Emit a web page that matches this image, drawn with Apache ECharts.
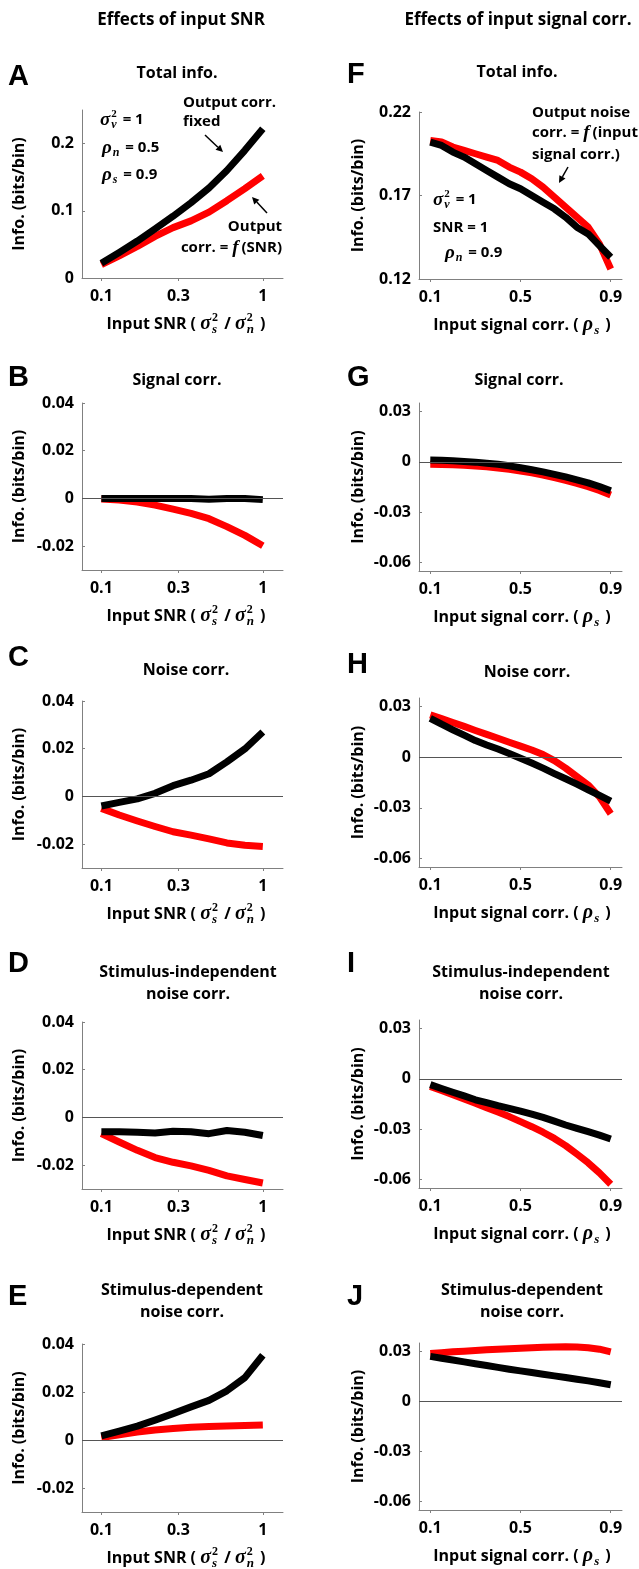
<!DOCTYPE html>
<html>
<head>
<meta charset="utf-8">
<script src="https://cdn.jsdelivr.net/npm/echarts@6/dist/echarts.min.js"></script>
<style>
html,body{margin:0;padding:0;background:#fff;}
#main{width:639px;height:1569px;}
</style>
</head>
<body>
<div id="main"></div>
<script>
// x values: input SNR (left column, log axis) and input signal corr. (right column)
const snr = [0.1, 0.129, 0.167, 0.215, 0.278, 0.359, 0.464, 0.599, 0.774, 1];
const rhoS = [0.1, 0.15, 0.2, 0.25, 0.3, 0.35, 0.4, 0.45, 0.5, 0.55, 0.6, 0.65, 0.7, 0.75, 0.8, 0.85, 0.9];

// left column: black = output corr. fixed, red = output corr. = f(SNR)
const totalSnrBlack = [0.022, 0.038, 0.055, 0.073, 0.092, 0.112, 0.134, 0.160, 0.190, 0.222];
const totalSnrRed   = [0.020, 0.033, 0.047, 0.062, 0.075, 0.085, 0.098, 0.115, 0.133, 0.152];
const sigSnrBlack   = [0, 0, 0, 0, 0, 0, -0.0003, 0, 0, -0.0005];
const sigSnrRed     = [-0.0002, -0.0007, -0.0015, -0.0028, -0.0045, -0.0063, -0.0085, -0.0118, -0.0155, -0.0198];
const noiseSnrBlack = [-0.004, -0.0025, -0.001, 0.0013, 0.0045, 0.0068, 0.0095, 0.0145, 0.0199, 0.027];
const noiseSnrRed   = [-0.005, -0.0078, -0.0103, -0.0126, -0.0148, -0.0162, -0.0178, -0.0195, -0.0205, -0.021];
const indepSnrBlack = [-0.006, -0.006, -0.0062, -0.0065, -0.0058, -0.006, -0.0068, -0.0055, -0.0062, -0.0076];
const indepSnrRed   = [-0.0068, -0.0103, -0.0138, -0.0168, -0.0188, -0.0203, -0.0222, -0.0245, -0.026, -0.0275];
const depSnrBlack   = [0.0017, 0.0037, 0.0058, 0.0083, 0.011, 0.0138, 0.0165, 0.0205, 0.026, 0.0353];
const depSnrRed     = [0.001, 0.0022, 0.0033, 0.0042, 0.0048, 0.0053, 0.0056, 0.0058, 0.006, 0.0062];

// right column
const totalRhoBlack = [0.202, 0.200, 0.196, 0.193, 0.189, 0.185, 0.181, 0.177, 0.174, 0.170, 0.166, 0.162, 0.157, 0.151, 0.147, 0.140, 0.133];
const totalRhoRed   = [0.203, 0.202, 0.199, 0.197, 0.195, 0.193, 0.191, 0.187, 0.184, 0.180, 0.175, 0.169, 0.163, 0.157, 0.151, 0.141, 0.126];
const sigRhoBlack   = [0.001, 0.0009, 0.0006, 0.0002, -0.0002, -0.0008, -0.0015, -0.0024, -0.0035, -0.0047, -0.006, -0.0075, -0.009, -0.0107, -0.0125, -0.0147, -0.0172];
const sigRhoRed     = [-0.0015, -0.0016, -0.0018, -0.0021, -0.0025, -0.003, -0.0037, -0.0045, -0.0055, -0.0066, -0.0079, -0.0094, -0.011, -0.0128, -0.0148, -0.0171, -0.0198];
const noiseRhoBlack = [0.023, 0.0195, 0.0162, 0.013, 0.0098, 0.0072, 0.0048, 0.0022, -0.0006, -0.0035, -0.0065, -0.0097, -0.0128, -0.016, -0.0193, -0.0226, -0.026];
const noiseRhoRed   = [0.025, 0.0228, 0.0205, 0.0182, 0.0158, 0.0135, 0.0112, 0.0088, 0.0065, 0.0042, 0.0015, -0.002, -0.0065, -0.0115, -0.0165, -0.0235, -0.0335];
const indepRhoBlack = [-0.0035, -0.0058, -0.008, -0.0102, -0.0125, -0.0142, -0.016, -0.0176, -0.0192, -0.021, -0.023, -0.0252, -0.0275, -0.0295, -0.0315, -0.0335, -0.0358];
const indepRhoRed   = [-0.0045, -0.007, -0.0095, -0.012, -0.0145, -0.0172, -0.0198, -0.0225, -0.0255, -0.0285, -0.0318, -0.0355, -0.0398, -0.0448, -0.05, -0.056, -0.0628];
const depRhoBlack   = [0.027, 0.0259, 0.0248, 0.0237, 0.0226, 0.0215, 0.0204, 0.0193, 0.0183, 0.0173, 0.0163, 0.0153, 0.0143, 0.0133, 0.0123, 0.0112, 0.010];
const depRhoRed     = [0.0287, 0.0292, 0.0297, 0.0301, 0.0305, 0.0309, 0.0313, 0.0316, 0.0319, 0.0322, 0.0324, 0.0326, 0.0327, 0.0326, 0.0322, 0.0313, 0.0297];

// tick labels
const snrTicks = [0.1, 0.3, 1];
const rhoTicks = [0.1, 0.5, 0.9];
const totalSnrYTicks = [0, 0.1, 0.2];
const totalRhoYTicks = [0.12, 0.17, 0.22];
const leftYTicks = [-0.02, 0, 0.02, 0.04];
const rightYTicks = [-0.06, -0.03, 0, 0.03];

const FONT = "'Open Sans', sans-serif";
const MATH = "'Liberation Serif', serif";

const panels = [
  {letter:'A', title:['Total info.'], col:0, top:110, h:168, y:[0, 0.25], ticks:totalSnrYTicks, red:totalSnrRed, black:totalSnrBlack, zero:false, ly:77, tx:177, ty:73},
  {letter:'B', title:['Signal corr.'], col:0, top:403, h:167, y:[-0.03, 0.04], ticks:leftYTicks, red:sigSnrRed, black:sigSnrBlack, zero:true, ly:378, tx:177, ty:380},
  {letter:'C', title:['Noise corr.'], col:0, top:701, h:167, y:[-0.03, 0.04], ticks:leftYTicks, red:noiseSnrRed, black:noiseSnrBlack, zero:true, ly:658, tx:186, ty:670},
  {letter:'D', title:['Stimulus-independent', 'noise corr.'], col:0, top:1022, h:167, y:[-0.03, 0.04], ticks:leftYTicks, red:indepSnrRed, black:indepSnrBlack, zero:true, ly:964, tx:188, ty:972},
  {letter:'E', title:['Stimulus-dependent', 'noise corr.'], col:0, top:1344, h:168, y:[-0.03, 0.04], ticks:leftYTicks, red:depSnrRed, black:depSnrBlack, zero:true, ly:1297, tx:182, ty:1290},
  {letter:'F', title:['Total info.'], col:1, top:112, h:167, y:[0.12, 0.22], ticks:totalRhoYTicks, red:totalRhoRed, black:totalRhoBlack, zero:false, ly:75, tx:517, ty:72},
  {letter:'G', title:['Signal corr.'], col:1, top:403, h:168, y:[-0.065, 0.035], ticks:rightYTicks, red:sigRhoRed, black:sigRhoBlack, zero:true, ly:378, tx:519, ty:380},
  {letter:'H', title:['Noise corr.'], col:1, top:698, h:169, y:[-0.065, 0.035], ticks:rightYTicks, red:noiseRhoRed, black:noiseRhoBlack, zero:true, ly:665, tx:527, ty:672},
  {letter:'I', title:['Stimulus-independent', 'noise corr.'], col:1, top:1020, h:168, y:[-0.065, 0.035], ticks:rightYTicks, red:indepRhoRed, black:indepRhoBlack, zero:true, ly:964, tx:521, ty:972},
  {letter:'J', title:['Stimulus-dependent', 'noise corr.'], col:1, top:1343, h:167, y:[-0.065, 0.035], ticks:rightYTicks, red:depRhoRed, black:depRhoBlack, zero:true, ly:1297, tx:522, ty:1290}
];

// text measuring for the little math labels
const mctx = document.createElement('canvas').getContext('2d');
function textW(str, f) {
  mctx.font = (f.fontStyle || 'normal') + ' ' + (f.fontWeight || 'normal') + ' ' + f.fontSize + 'px ' + f.fontFamily;
  return mctx.measureText(str).width;
}
function txt(x, y, s, f, extra) {
  return {type:'text', x:x, y:y, silent:true, style:Object.assign({text:s, fill:'#000', verticalAlign:'middle'}, f, extra || {})};
}
// parts: plain strings, or {m:'σ', sup:'2', sub:'s'}
function mathText(x, y, parts, align, size) {
  size = size || 15;
  const norm = {fontSize:size, fontFamily:FONT, fontWeight:'bold'};
  const ital = {fontSize:size + 4, fontFamily:MATH, fontWeight:'bold', fontStyle:'italic'};
  const supF = {fontSize:Math.round(size * 0.75), fontFamily:MATH, fontWeight:'bold'};
  const subF = {fontSize:Math.round(size * 0.8), fontFamily:MATH, fontWeight:'bold', fontStyle:'italic'};
  let cx = 0;
  const kids = [];
  parts.forEach(p => {
    if (typeof p === 'string') {
      kids.push(txt(cx, 0, p, norm));
      cx += textW(p, norm);
    } else {
      kids.push(txt(cx, 0, p.m, ital));
      cx += textW(p.m, ital) + 1;
      let w = 0;
      if (p.sup) { kids.push(txt(cx, -size * 0.4, p.sup, supF)); w = textW(p.sup, supF); }
      if (p.sub) { kids.push(txt(cx, size * 0.35, p.sub, subF)); w = Math.max(w, textW(p.sub, subF)); }
      cx += w + 2;
    }
  });
  const off = align === 'center' ? -cx / 2 : (align === 'right' ? -cx : 0);
  return {type:'group', x:x + off, y:y, children:kids};
}
function arrow(x1, y1, x2, y2) {
  const a = Math.atan2(y2 - y1, x2 - x1), L = 7, W = 3.5;
  const bx = x2 - L * Math.cos(a), by = y2 - L * Math.sin(a);
  const px = -Math.sin(a) * W, py = Math.cos(a) * W;
  return [
    {type:'line', silent:true, shape:{x1:x1, y1:y1, x2:bx, y2:by}, style:{stroke:'#000', lineWidth:1.5}},
    {type:'polygon', silent:true, shape:{points:[[x2, y2], [bx + px, by + py], [bx - px, by - py]]}, style:{fill:'#000'}}
  ];
}

const labelFont = {fontSize:16, fontWeight:'bold', fontFamily:FONT, color:'#000'};
const grids = [], xAxes = [], yAxes = [], series = [];
const graphics = [];

graphics.push(txt(181, 20, 'Effects of input SNR', {fontSize:17, fontWeight:'bold', fontFamily:FONT}, {align:'center'}));
graphics.push(txt(518, 20, 'Effects of input signal corr.', {fontSize:17, fontWeight:'bold', fontFamily:FONT}, {align:'center'}));

panels.forEach((p, i) => {
  const left = p.col ? 419 : 82, width = p.col ? 203 : 201;
  const xs = p.col ? rhoS : snr.map(v => Math.log10(v));
  grids.push({left:left, top:p.top, width:width, height:p.h});
  const xTickVals = p.col ? rhoTicks : snrTicks.map(v => Math.log10(v));
  xAxes.push({
    type:'value', gridIndex:i,
    min:p.col ? 0.05 : -1.12, max:p.col ? 0.95 : 0.125,
    splitLine:{show:false},
    axisLine:{onZero:false, lineStyle:{color:'#808080', width:1}},
    axisTick:{show:true, length:3, customValues:xTickVals, lineStyle:{color:'#808080'}},
    axisLabel:Object.assign({customValues:xTickVals, margin:10,
      formatter:v => p.col ? String(+(+v).toFixed(2)) : String(+Math.pow(10, v).toFixed(1))}, labelFont)
  });
  yAxes.push({
    type:'value', gridIndex:i, min:p.y[0], max:p.y[1],
    splitLine:{show:false},
    axisLine:{show:true, onZero:false, lineStyle:{color:'#808080', width:1}},
    axisTick:{show:true, inside:true, length:3, customValues:p.ticks, lineStyle:{color:'#808080'}},
    axisLabel:Object.assign({customValues:p.ticks, margin:8,
      formatter:v => String(+(+v).toFixed(4))}, labelFont)
  });
  series.push({
    type:'line', xAxisIndex:i, yAxisIndex:i, z:2, silent:true, animation:false,
    symbol:'none', data:xs.map((x, k) => [x, p.red[k]]),
    lineStyle:{color:'#ff0000', width:7, cap:'butt', join:'round'},
    markLine:p.zero ? {silent:true, symbol:'none', animation:false, label:{show:false},
      lineStyle:{color:'#555', width:1, type:'solid'}, data:[{yAxis:0}]} : undefined
  });
  series.push({
    type:'line', xAxisIndex:i, yAxisIndex:i, z:3, silent:true, animation:false,
    symbol:'none', data:xs.map((x, k) => [x, p.black[k]]),
    lineStyle:{color:'#000000', width:7, cap:'butt', join:'round'}
  });

  // letter, title, axis names
  graphics.push(txt(p.col ? 347 : 8, p.ly, p.letter, {fontSize:29, fontWeight:'bold', fontFamily:"'Liberation Sans', Arial, sans-serif"}));
  p.title.forEach((t, k) => graphics.push(txt(p.tx, p.ty + k * 22, t, {fontSize:16, fontWeight:'bold', fontFamily:FONT}, {align:'center'})));
  graphics.push({type:'text', x:p.col ? 358 : 19, y:p.top + p.h / 2, rotation:Math.PI / 2, silent:true,
    style:{text:'Info. (bits/bin)', fill:'#000', fontSize:16, fontWeight:'bold', fontFamily:FONT, align:'center', verticalAlign:'middle'}});
  const nameY = p.top + p.h + 46;
  if (p.col) {
    graphics.push(mathText(522, nameY, ['Input signal corr. ( ', {m:'ρ', sub:'s'}, ' )'], 'center', 16));
  } else {
    graphics.push(mathText(186, nameY, ['Input SNR ( ', {m:'σ', sup:'2', sub:'s'}, ' / ', {m:'σ', sup:'2', sub:'n'}, ' )'], 'center', 16));
  }
});

// annotations, panel A
graphics.push(mathText(100, 120, [{m:'σ', sup:'2', sub:'v'}, ' = 1'], 'left', 15));
graphics.push(mathText(102, 148, [{m:'ρ', sub:'n'}, ' = 0.5'], 'left', 15));
graphics.push(mathText(102, 175, [{m:'ρ', sub:'s'}, ' = 0.9'], 'left', 15));
graphics.push(txt(183, 103, 'Output corr.', {fontSize:15, fontWeight:'bold', fontFamily:FONT}));
graphics.push(txt(183, 122, 'fixed', {fontSize:15, fontWeight:'bold', fontFamily:FONT}));
arrow(205, 135, 223, 152).forEach(g => graphics.push(g));
graphics.push(txt(282, 227, 'Output', {fontSize:15, fontWeight:'bold', fontFamily:FONT}, {align:'right'}));
graphics.push(mathText(282, 248, ['corr. = ', {m:'f'}, '(SNR)'], 'right', 15));
arrow(267, 213, 252, 197).forEach(g => graphics.push(g));

// annotations, panel F
graphics.push(txt(532, 113, 'Output noise', {fontSize:15, fontWeight:'bold', fontFamily:FONT}));
graphics.push(mathText(532, 133, ['corr. = ', {m:'f'}, '(input'], 'left', 15));
graphics.push(txt(532, 155, 'signal corr.)', {fontSize:15, fontWeight:'bold', fontFamily:FONT}));
arrow(568, 167, 559, 183).forEach(g => graphics.push(g));
graphics.push(mathText(433, 200, [{m:'σ', sup:'2', sub:'v'}, ' = 1'], 'left', 15));
graphics.push(txt(433, 228, 'SNR = 1', {fontSize:15, fontWeight:'bold', fontFamily:FONT}));
graphics.push(mathText(445, 253, [{m:'ρ', sub:'n'}, ' = 0.9'], 'left', 15));

const chart = echarts.init(document.getElementById('main'));
chart.setOption({
  animation:false,
  backgroundColor:'#fff',
  grid:grids,
  xAxis:xAxes,
  yAxis:yAxes,
  series:series,
  graphic:{elements:graphics}
});
</script>
</body>
</html>
